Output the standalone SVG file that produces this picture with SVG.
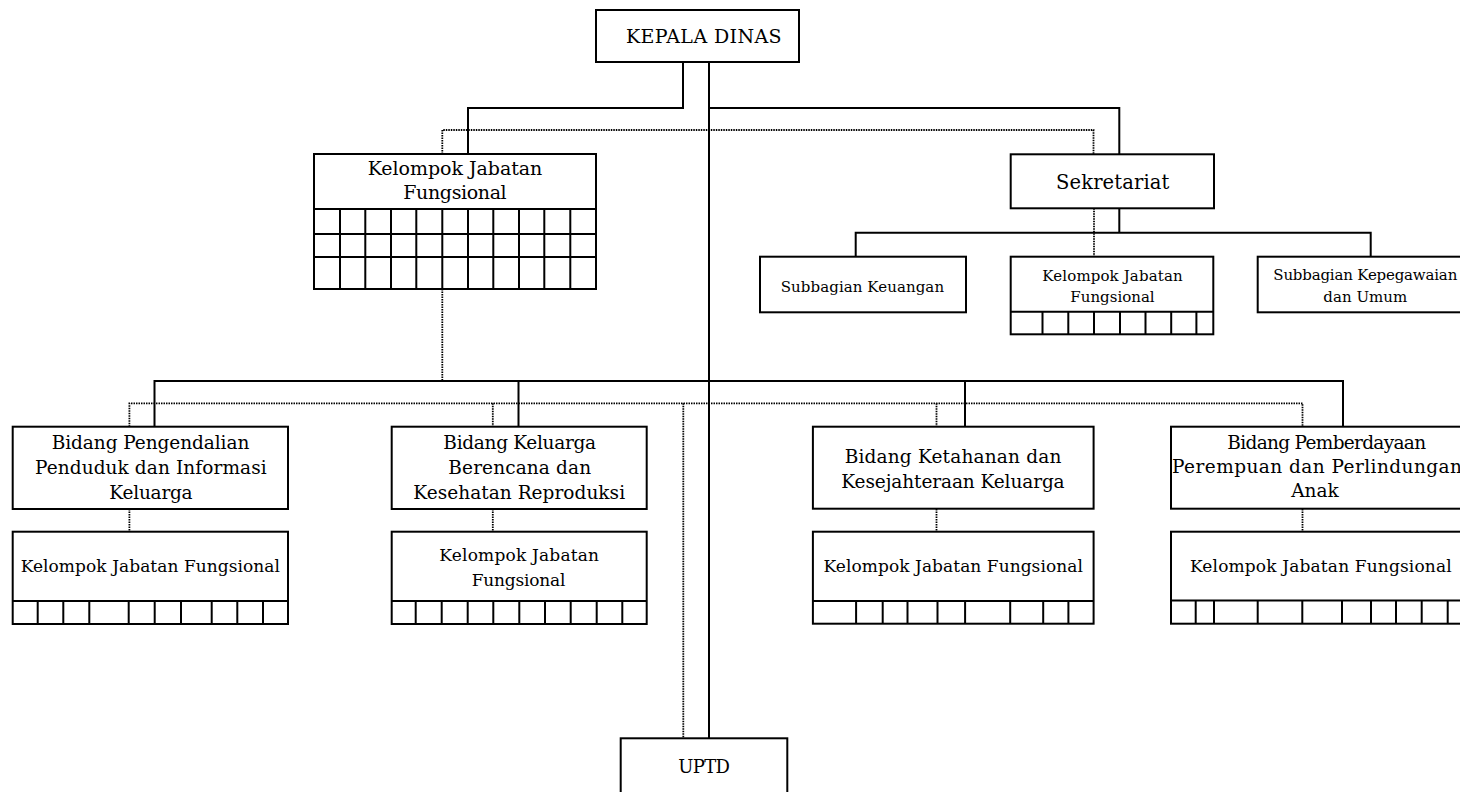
<svg xmlns="http://www.w3.org/2000/svg" width="1460" height="792" viewBox="0 0 1460 792">
<style>
.box{fill:#fff;stroke:#000;stroke-width:2}
.grid{stroke:#000;stroke-width:2;fill:none}
.solid{stroke:#000;stroke-width:2;fill:none}
.dot{stroke:#000;stroke-width:1.8;stroke-dasharray:1.5 1;fill:none}
text{font-family:"DejaVu Serif","Liberation Serif",serif;fill:#000;text-anchor:middle}
.t18{font-size:18.5px}
.t17{font-size:17px}
.t15{font-size:15px}
</style>
<rect width="1460" height="792" fill="#fff"/>
<g id="connectors">
<path class="solid" d="M683,62 V108 H468 V154"/>
<path class="solid" d="M709,62 V738"/>
<path class="solid" d="M709,108 H1119.3 V154.3"/>
<path class="solid" d="M1119.3,208.3 V232.7"/>
<path class="solid" d="M855.7,256.7 V232.7 H1370.7 V256.7"/>
<path class="solid" d="M154.5,426.7 V381 H1343 V426.7"/>
<path class="solid" d="M518.5,381 V426.7"/>
<path class="solid" d="M965,381 V426.7"/>
<path class="dot" d="M442.3,154 V130 H1093.5 V154.3"/>
<path class="dot" d="M442.3,289 V381"/>
<path class="dot" d="M1094,208.3 V256.7"/>
<path class="dot" d="M129.4,426.7 V403.3 H1302.5 V426.7"/>
<path class="dot" d="M492.8,403.3 V426.7"/>
<path class="dot" d="M936.5,403.3 V426.7"/>
<path class="dot" d="M683.3,403.3 V738.3"/>
<path class="dot" d="M129.4,509 V531.7 M492.8,509 V531.7 M936.5,509 V531.7 M1302.5,509 V531.7"/>
</g>
<g id="kepala-dinas">
<rect class="box" x="596" y="10" width="203" height="52"/>
<text x="703.8" y="43" style="font-size:19px" textLength="155.7">KEPALA DINAS</text>
</g>
<g id="kjf-atas">
<rect class="box" x="314" y="154" width="282" height="135"/>
<path class="grid" d="M314,209 H596 M314,234 H596 M314,257 H596 M340,209 V289 M365.3,209 V289 M391,209 V289 M416.3,209 V289 M442.3,209 V289 M468,209 V289 M493.3,209 V289 M519,209 V289 M544.3,209 V289 M570.3,209 V289"/>
<text x="455" y="175" style="font-size:19px" textLength="174.7">Kelompok Jabatan</text>
<text x="455" y="199" style="font-size:19px" textLength="103.4">Fungsional</text>
</g>
<g id="sekretariat">
<rect class="box" x="1010.7" y="154.3" width="203.3" height="54"/>
<text x="1112.7" y="189.3" style="font-size:19.5px" textLength="113.3">Sekretariat</text>
</g>
<g id="subbagian-keuangan">
<rect class="box" x="760" y="256.7" width="206" height="55.6"/>
<text class="t15" x="862.4" y="291.7" textLength="163.3">Subbagian Keuangan</text>
</g>
<g id="kjf-sekretariat">
<rect class="box" x="1010.7" y="256.7" width="202.6" height="77.6"/>
<path class="grid" d="M1010.7,311.7 H1213.3 M1042.5,311.7 V334.3 M1068.3,311.7 V334.3 M1094,311.7 V334.3 M1120,311.7 V334.3 M1145.5,311.7 V334.3 M1171.2,311.7 V334.3 M1196.4,311.7 V334.3"/>
<text class="t15" x="1112.5" y="281" textLength="140.3">Kelompok Jabatan</text>
<text class="t15" x="1112.5" y="301.5">Fungsional</text>
</g>
<g id="subbagian-kepegawaian">
<rect class="box" x="1257.7" y="256.7" width="214" height="55.6"/>
<text class="t15" x="1365.3" y="280" textLength="184">Subbagian Kepegawaian</text>
<text class="t15" x="1365.3" y="301.7" textLength="84">dan Umum</text>
</g>
<g id="bidang-pengendalian">
<rect class="box" x="12.7" y="426.7" width="275.3" height="82.3"/>
<text class="t18" x="150.5" y="449.3" textLength="197.6">Bidang Pengendalian</text>
<text class="t18" x="150.8" y="474" textLength="231.7">Penduduk dan Informasi</text>
<text class="t18" x="151" y="498.7" textLength="83.3">Keluarga</text>
</g>
<g id="kjf-pengendalian">
<rect class="box" x="12.7" y="531.7" width="275.3" height="92.3"/>
<path class="grid" d="M12.7,601 H288 M37.7,601 V624 M63.3,601 V624 M89.3,601 V624 M128.7,601 V624 M154.7,601 V624 M181,601 V624 M211.7,601 V624 M237.3,601 V624 M263,601 V624"/>
<text class="t17" x="150.3" y="571.7" textLength="259.3">Kelompok Jabatan Fungsional</text>
</g>
<g id="bidang-kb">
<rect class="box" x="391.7" y="426.7" width="255" height="82.3"/>
<text class="t18" x="519.7" y="449.3" textLength="152.7">Bidang Keluarga</text>
<text class="t18" x="519.7" y="474" textLength="142.7">Berencana dan</text>
<text class="t18" x="519.2" y="498.7" textLength="211.7">Kesehatan Reproduksi</text>
</g>
<g id="kjf-kb">
<rect class="box" x="391.7" y="531.7" width="255" height="92.3"/>
<path class="grid" d="M391.7,601 H646.7 M415.7,601 V624 M441.7,601 V624 M467.7,601 V624 M493.3,601 V624 M519.3,601 V624 M545,601 V624 M570.7,601 V624 M596.7,601 V624 M622.3,601 V624"/>
<text class="t17" x="519.2" y="561" textLength="159.7">Kelompok Jabatan</text>
<text class="t17" x="518.5" y="585.7" textLength="93.7">Fungsional</text>
</g>
<g id="uptd">
<rect class="box" x="620.7" y="738.3" width="166.6" height="70"/>
<text x="704.2" y="773.3" style="font-size:18px" textLength="51.7">UPTD</text>
</g>
<g id="bidang-ketahanan">
<rect class="box" x="812.9" y="426.7" width="280.7" height="82"/>
<text class="t18" x="953" y="462.7" textLength="216.7">Bidang Ketahanan dan</text>
<text class="t18" x="953" y="487.7" textLength="223.3">Kesejahteraan Keluarga</text>
</g>
<g id="kjf-ketahanan">
<rect class="box" x="812.9" y="531.7" width="280.7" height="92"/>
<path class="grid" d="M812.9,601 H1093.6 M856.1,601 V623.7 M882.7,601 V623.7 M907.5,601 V623.7 M937.5,601 V623.7 M965.1,601 V623.7 M1010.2,601 V623.7 M1043.2,601 V623.7 M1068.4,601 V623.7"/>
<text class="t17" x="953.2" y="572.3" textLength="259.3">Kelompok Jabatan Fungsional</text>
</g>
<g id="bidang-pemberdayaan">
<rect class="box" x="1171" y="426.7" width="299" height="82"/>
<text class="t18" x="1326.7" y="448.5" textLength="198.7">Bidang Pemberdayaan</text>
<text class="t18" x="1172" y="472.5" style="text-anchor:start" textLength="290">Perempuan dan Perlindungan</text>
<text class="t18" x="1315" y="497">Anak</text>
</g>
<g id="kjf-pemberdayaan">
<rect class="box" x="1171" y="531.7" width="299" height="92"/>
<path class="grid" d="M1171,600.5 H1470 M1195.7,600.5 V623.7 M1214,600.5 V623.7 M1257.7,600.5 V623.7 M1302.3,600.5 V623.7 M1342,600.5 V623.7 M1371,600.5 V623.7 M1396,600.5 V623.7 M1421.7,600.5 V623.7 M1447.7,600.5 V623.7"/>
<text class="t17" x="1320.8" y="572.3" textLength="261.7">Kelompok Jabatan Fungsional</text>
</g>
</svg>
